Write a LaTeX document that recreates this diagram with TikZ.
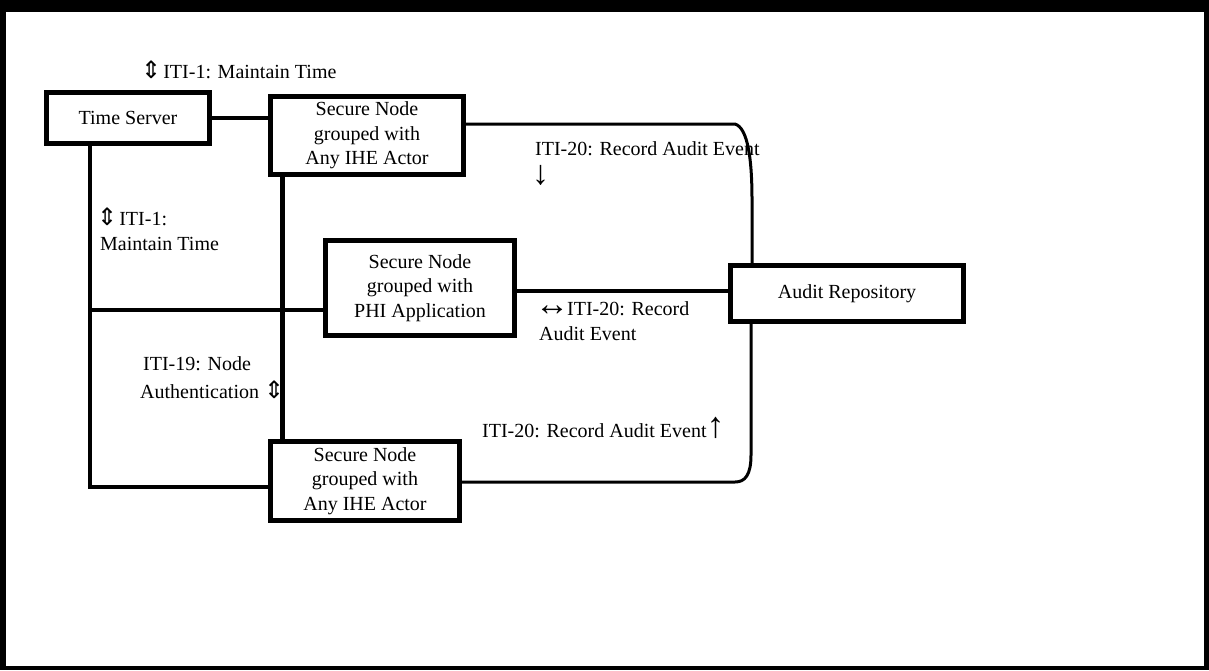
\documentclass[tikz,border=0pt]{standalone}
\usepackage{fontspec}
\setmainfont{Liberation Serif}
\newfontfamily\arrowsfont{DejaVu Sans}
\newcommand{\updown}{{\arrowsfont\fontsize{24}{24}\selectfont ⇕}}
\newcommand{\bigarrow}[2]{{\fontsize{#1}{#1}\selectfont #2}}
\begin{document}
\begin{tikzpicture}[x=1pt,y=-1pt,
  every node/.style={font=\fontsize{20}{24.5}\selectfont},
  actor/.style={draw, line width=5pt, inner sep=0pt, align=center},
  link/.style={line width=3.5pt},
  trunk/.style={line width=5pt},
  audit/.style={line width=3pt},
  lbl/.style={anchor=base west, inner sep=0pt}]
% page frame
\fill[black] (0,0) rectangle (1209,670);
\fill[white] (6,12) rectangle (1204,666);
\useasboundingbox (0,0) rectangle (1209,670);

% actors
\node[actor, minimum width=163pt, minimum height=51pt] (ts) at (128,118) {Time Server};
\node[actor, minimum width=193pt, minimum height=78pt] (sn1) at (367,135.5) {Secure Node\\grouped with\\Any IHE Actor};
\node[actor, minimum width=189pt, minimum height=95pt] (phi) at (420,288) {Secure Node\\grouped with\\PHI Application};
\node[actor, minimum width=233pt, minimum height=56pt] (ar) at (847,293.5) {Audit Repository};
\node[actor, minimum width=189pt, minimum height=79pt] (sn2) at (365,481) {Secure Node\\grouped with\\Any IHE Actor};

% routing points
\coordinate (tl) at (90,487);
\coordinate (tm) at (90,310);
\coordinate (nx) at (282,0);
\coordinate (ry) at (0,124);
\coordinate (rc1) at (735,124);
\coordinate (rv1) at (752,200);
\coordinate (rx) at (752,0);
\coordinate (rv2) at (751,455);
\coordinate (rc2) at (735,482);
\coordinate (by) at (0,482);
\coordinate (py) at (0,291);

% ITI-1 maintain time
\draw[link] (ts.east) -- (sn1.west |- ts.east);
\draw[link] (ts.south -| tl) -- (tl) -- (sn2.west |- tl);
\draw[link] (tm) -- (phi.west |- tm);
% ITI-19 node authentication
\draw[trunk] (sn1.south -| nx) -- (sn2.north -| nx);
% ITI-20 record audit event
\draw[audit] (sn1.east |- ry) -- (rc1) .. controls (748,128) and (752,160) .. (rv1) -- (ar.north -| rx);
\draw[link] (phi.east |- py) -- (ar.west |- py);
\draw[audit] (ar.south -| rv2) -- (rv2) .. controls (751,475) and (745,482) .. (rc2) -- (sn2.east |- by);

% transaction labels
\node[lbl] (t1) at (141,78) {\updown\kern2pt ITI-1: Maintain Time};
\node[lbl] (t2a) at (535,155) {ITI-20: Record Audit Event};
\node[lbl] (t2b) at (532,184) {\bigarrow{34}{↓}};
\node[lbl] (t3a) at (97,225) {\updown\kern2pt ITI-1:};
\node[lbl] (t3b) at (100,250) {Maintain Time};
\node[lbl] (t4a) at (143,370) {ITI-19: Node};
\node[lbl] (t4b) at (140,398) {Authentication \updown};
\node[lbl] (t5a) at (535,315) {\bigarrow{34}{↔}\kern-2pt ITI-20: Record};
\node[lbl] (t5b) at (539,340) {Audit Event};
\node[lbl] (t6) at (482,437) {ITI-20: Record Audit Event\bigarrow{36}{↑}};
\end{tikzpicture}
\end{document}
